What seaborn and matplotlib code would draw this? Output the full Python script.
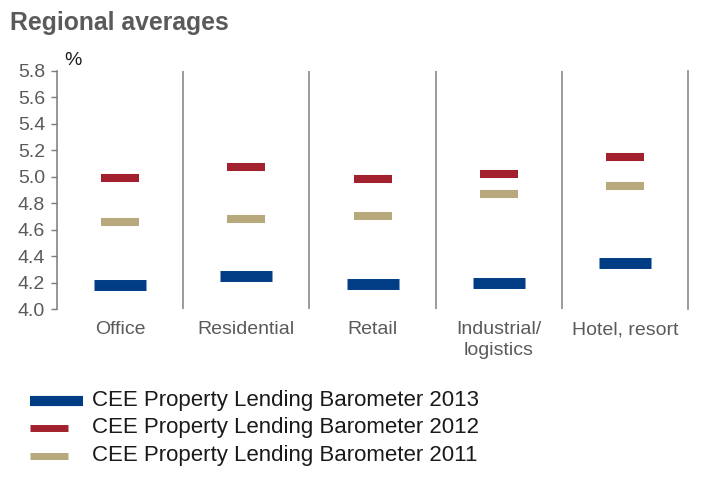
import matplotlib
matplotlib.use("Agg")
import matplotlib.pyplot as plt
from matplotlib.lines import Line2D
import seaborn as sns
import pandas as pd

# Property categories and average values (%) per barometer edition
categories = ["Office", "Residential", "Retail", "Industrial/\nlogistics", "Hotel, resort"]
values_2013 = [4.18, 4.25, 4.19, 4.20, 4.35]
values_2012 = [4.99, 5.07, 4.98, 5.02, 5.15]
values_2011 = [4.66, 4.68, 4.70, 4.87, 4.93]

series_names = [
    "CEE Property Lending Barometer 2013",
    "CEE Property Lending Barometer 2012",
    "CEE Property Lending Barometer 2011",
]
y_ticks = [4.0, 4.2, 4.4, 4.6, 4.8, 5.0, 5.2, 5.4, 5.6, 5.8]

colors = ["#003d84", "#a3202e", "#b7a97c"]
# marker length / thickness in points
mark_len = [38.0, 27.5, 27.5]
mark_thick = [7.9, 5.8, 5.8]

sns.set_theme(style="white")
plt.rcParams["font.family"] = ["Liberation Sans", "DejaVu Sans"]

fig = plt.figure(figsize=(7.06, 5.03), dpi=100)
ax = fig.add_axes([57 / 706, 1 - 309 / 503, 631 / 706, (309 - 70.7) / 503])

df = pd.DataFrame({
    "category": categories * 3,
    "value": values_2013 + values_2012 + values_2011,
    "series": [series_names[0]] * 5 + [series_names[1]] * 5 + [series_names[2]] * 5,
})

for name, col, ln, th in zip(series_names, colors, mark_len, mark_thick):
    sub = df[df["series"] == name]
    sns.scatterplot(data=sub, x="category", y="value", marker="_",
                    s=ln ** 2, linewidth=th, color=col, ax=ax, legend=False, zorder=3)

ax.set_xlim(-0.5, len(categories) - 0.5)
ax.set_ylim(4.0, 5.8)
ax.set_yticks(y_ticks)
ax.set_yticklabels([f"{v:.1f}" for v in y_ticks])
ax.set_xlabel("")
ax.set_ylabel("")

# vertical separators between categories
for i in range(len(categories) - 1):
    ax.axvline(i + 0.5, color="#8a8a8a", lw=1.2, zorder=1)

for side in ["top", "bottom"]:
    ax.spines[side].set_visible(False)
ax.spines["left"].set_color("#7a7a7a")
ax.spines["left"].set_linewidth(1.1)
ax.spines["right"].set_color("#8a8a8a")
ax.spines["right"].set_linewidth(1.2)

ax.tick_params(axis="y", which="major", left=True, length=4.5, width=1.0,
               color="#7a7a7a", labelsize=14, labelcolor="#5a5a5a", pad=4)
ax.tick_params(axis="x", which="major", bottom=False, length=0,
               labelsize=14, labelcolor="#5a5a5a", pad=9)
for lbl in ax.get_xticklabels():
    lbl.set_linespacing(1.25)

# title and unit
fig.text(10 / 706, 1 - 30 / 503, "Regional averages", fontsize=17.8, fontweight="bold",
         color="#5a5a5a", va="baseline", ha="left")
fig.text(64 / 706, 1 - 65 / 503, "%", fontsize=14, color="#1a1a1a",
         va="baseline", ha="left")

# legend drawn below the plot
leg_y = [400.7, 428.3, 456.0]
leg_end = [83, 68, 68]
leg_lw = [7.3, 5.0, 5.0]
for name, col, y, xe, lw in zip(series_names, colors, leg_y, leg_end, leg_lw):
    fig.add_artist(Line2D([30 / 706, xe / 706], [1 - y / 503, 1 - y / 503],
                          color=col, lw=lw, solid_capstyle="butt",
                          transform=fig.transFigure))
    fig.text(92 / 706, 1 - (y + 5.2) / 503, name, fontsize=16, color="#1a1a1a",
             va="baseline", ha="left")

fig.savefig("out.png", dpi=100)
